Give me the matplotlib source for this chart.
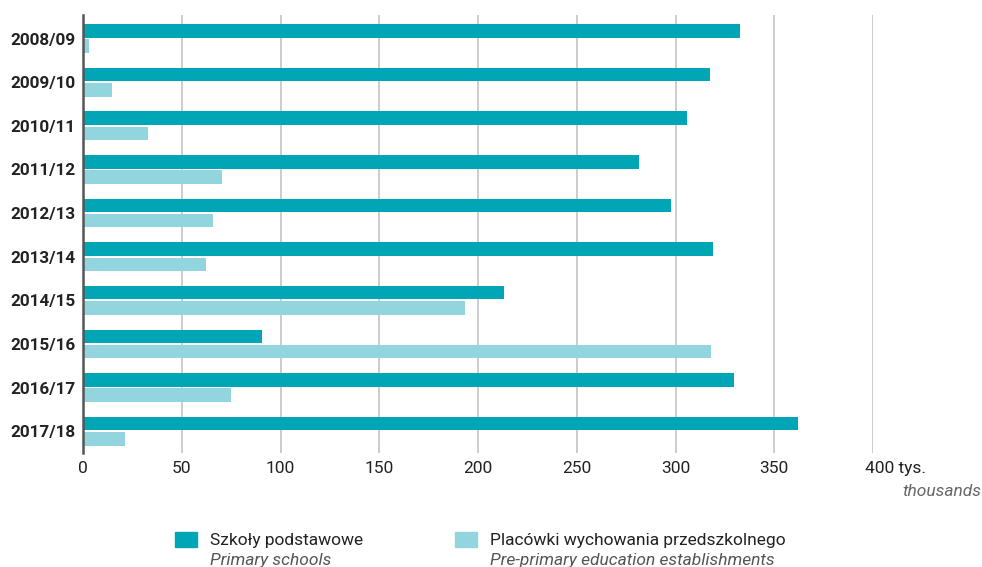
import matplotlib.pyplot as plt
from matplotlib.patches import Rectangle
import numpy as np

# dane
years = ['2008/09', '2009/10', '2010/11', '2011/12', '2012/13',
         '2013/14', '2014/15', '2015/16', '2016/17', '2017/18']
primary = [332.5, 317.5, 306, 281.5, 297.5, 319, 213, 90.5, 329.5, 362]
pre_primary = [3, 14.5, 33, 70.5, 66, 62.5, 193.5, 318, 75, 21.5]
x_ticks = [0, 50, 100, 150, 200, 250, 300, 350, 400]

C_PRIMARY = '#00a5b6'
C_PRE = '#93d5df'
FS = 12.5

plt.rcParams['font.family'] = ['Roboto', 'DejaVu Sans']

fig = plt.figure(figsize=(9.82, 5.67), dpi=100)
ax = fig.add_axes([83 / 982, 1 - 453 / 567, 790 / 982, 438 / 567])

y = np.arange(len(years))
h = 0.31
ax.barh(y - 0.175, primary, height=h, color=C_PRIMARY, zorder=3)
ax.barh(y + 0.175, pre_primary, height=h, color=C_PRE, zorder=3)

ax.set_xlim(0, 400)
ax.set_ylim(len(years) - 0.5, -0.54)

ax.set_xticks(x_ticks)
ax.set_xticklabels([str(t) for t in x_ticks[:-1]] + [''])
ax.set_yticks(y)
ax.set_yticklabels(years, fontweight='bold', fontsize=12.3, color='#222222')
ax.tick_params(axis='both', length=0)
ax.tick_params(axis='x', pad=6, labelsize=FS, labelcolor='#222222')
ax.tick_params(axis='y', pad=5.5)

ax.grid(axis='x', color='#c4c4c4', linewidth=1.2, zorder=0)
for s in ['top', 'right', 'bottom']:
    ax.spines[s].set_visible(False)
ax.spines['left'].set_color('#555555')
ax.spines['left'].set_linewidth(1.8)
ax.spines['left'].set_zorder(4)

# ostatni tick z jednostką
ax.annotate('400 tys.', xy=(400, 0), xycoords=('data', 'axes fraction'),
            xytext=(-6, -6), textcoords='offset points',
            ha='left', va='top', fontsize=FS, color='#222222')
fig.text(981 / 982, 1 - 491 / 567, 'thousands', ha='right', va='center',
         fontsize=FS, style='italic', color='#666666')

# legenda
legend = [(175, C_PRIMARY, 'Szkoły podstawowe', 'Primary schools'),
          (455, C_PRE, 'Placówki wychowania przedszkolnego', 'Pre-primary education establishments')]
for x0, col, pl, en in legend:
    fig.add_artist(Rectangle((x0 / 982, 1 - 547 / 567), 22 / 982, 15 / 567,
                             transform=fig.transFigure, color=col))
    fig.text((x0 + 35) / 982, 1 - 540 / 567, pl, ha='left', va='center',
             fontsize=FS, color='#222222')
    fig.text((x0 + 35) / 982, 1 - 561 / 567, en, ha='left', va='center',
             fontsize=FS, style='italic', color='#555555')

fig.savefig('out.png', dpi=100)
